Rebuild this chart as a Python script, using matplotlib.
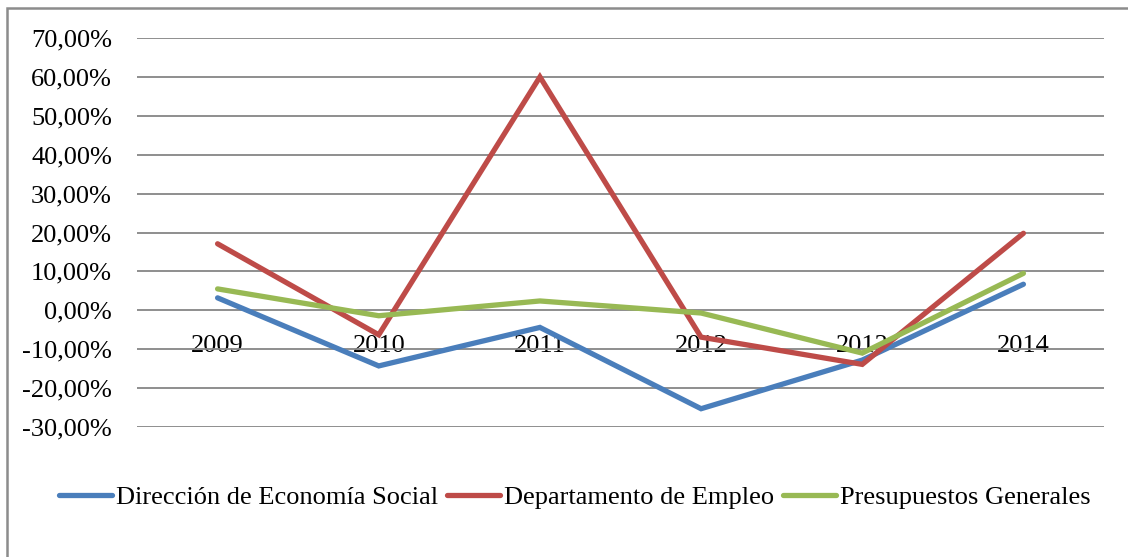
import matplotlib.pyplot as plt
from matplotlib.patches import Rectangle
from matplotlib.ticker import FuncFormatter

years = ["2009", "2010", "2011", "2012", "2013", "2014"]
economia_social = [3.2, -14.3, -4.4, -25.3, -12.8, 6.7]
empleo = [17.1, -6.3, 60.0, -6.9, -13.9, 19.8]
presupuestos = [5.5, -1.4, 2.4, -0.7, -11.0, 9.5]

plt.rcParams['font.family'] = ['Liberation Serif', 'DejaVu Serif']

fig = plt.figure(figsize=(11.28, 5.57), dpi=100)
W, H = 1128, 557
# plot area in pixels: left 137, right 1104, top 38, bottom 427
ax = fig.add_axes([137 / W, 1 - 427 / H, (1104 - 137) / W, (427 - 38) / H])

# chart border
fig.patches.append(Rectangle((7 / W, -0.1), 1.2, 1 - 8 / H + 0.1, transform=fig.transFigure,
                             fill=False, edgecolor='#8c8c8c', linewidth=1.8))

x = list(range(len(years)))
lw = 3.8
ax.plot(x, economia_social, color='#4A7EBB', lw=lw, label="Dirección de Economía Social",
        solid_capstyle='round', solid_joinstyle='miter')
ax.plot(x, empleo, color='#BE4B48', lw=lw, label="Departamento de Empleo",
        solid_capstyle='round', solid_joinstyle='miter')
ax.plot(x, presupuestos, color='#98B954', lw=lw, label="Presupuestos Generales",
        solid_capstyle='round', solid_joinstyle='miter')

ax.set_xlim(-0.5, len(years) - 0.5)
ax.set_ylim(-30, 70)
ax.set_yticks(range(-30, 71, 10))
ax.yaxis.set_major_formatter(FuncFormatter(lambda v, p: f"{v:.2f}%".replace('.', ',')))
ax.grid(axis='y', color='#868686', lw=1.3)
ax.set_axisbelow(True)

for s in ['top', 'right', 'left']:
    ax.spines[s].set_visible(False)
ax.spines['bottom'].set_position(('data', 0))
ax.spines['bottom'].set_visible(False)

ax.set_xticks(x)
ax.set_xticklabels(years)
ax.tick_params(axis='x', length=0, pad=18, labelsize=19)
ax.tick_params(axis='y', length=0, pad=18, labelsize=19)

fig.legend(loc='center', bbox_to_anchor=(575 / W, 1 - 497 / H), ncol=3, frameon=False,
           fontsize=19, handlelength=2.0, handletextpad=0.15, columnspacing=0.35)

fig.savefig("out.png", dpi=100)
